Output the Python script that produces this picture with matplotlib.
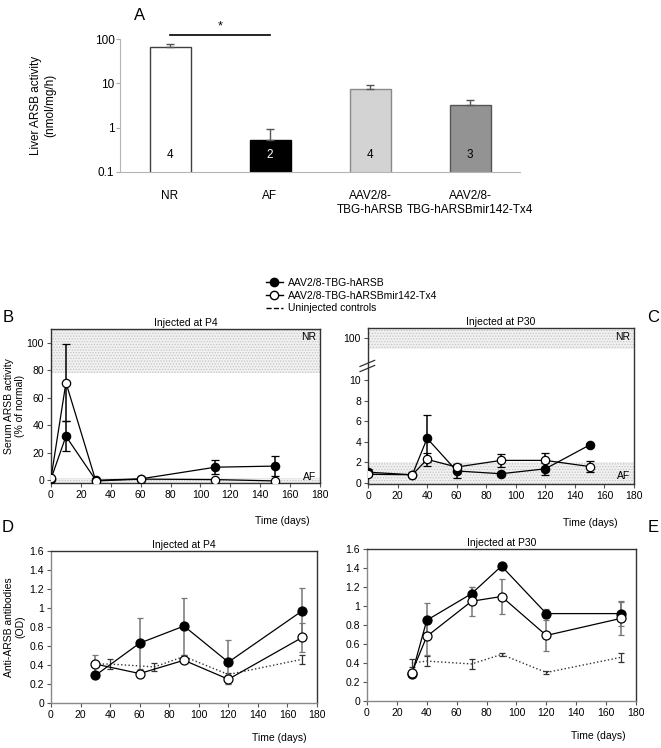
import matplotlib
matplotlib.use('Agg')
import matplotlib.pyplot as plt
from matplotlib.lines import Line2D
from matplotlib.ticker import FuncFormatter, NullLocator

plt.rcParams['font.family'] = ['Liberation Sans', 'DejaVu Sans']
plt.rcParams['font.size'] = 7.5
plt.rcParams['hatch.linewidth'] = 0.6

# A: liver ARSB activity
groups = ['NR', 'AF', 'AAV2/8-\nTBG-hARSB', 'AAV2/8-\nTBG-hARSBmir142-Tx4']
liver_mean = [66, 0.54, 7.5, 3.2]
liver_err = [12, 0.37, 1.9, 1.1]
liver_n = ['4', '2', '4', '3']
bar_colors = ['white', 'black', '#d3d3d3', '#939393']
bar_edges = ['#404040', 'black', '#8a8a8a', '#555555']
n_colors = ['black', 'white', 'black', 'black']

# B: serum ARSB, injected at P4 (% of normal)
b_days = [0, 10, 30, 60, 110, 150]
b_arsb = [1.0, 32, 0.0, 1.0, 9.5, 10.3]
b_arsb_err = [0, 11, 0, 0, 5, 7]
b_mir = [1.5, 71, -0.5, 0.8, 0.5, -0.5]
b_mir_err = [0, 28, 0, 0, 0, 0]

# C: serum ARSB, injected at P30 (% of normal)
c_days = [0, 30, 40, 60, 90, 120, 150]
c_arsb = [1.05, 0.8, 4.35, 1.17, 0.9, 1.38, 3.7]
c_arsb_err = [0.3, 0, 2.3, 0.65, 0, 0.6, 0]
c_mir = [0.85, 0.8, 2.3, 1.55, 2.2, 2.2, 1.6]
c_mir_err = [0.2, 0, 0.65, 0.3, 0.65, 0.7, 0.5]
c_ticks = [0, 2, 4, 6, 8, 10]

# D: anti-ARSB antibodies, injected at P4 (OD)
d_days = [30, 60, 90, 120, 170]
d_arsb = [0.29, 0.63, 0.81, 0.43, 0.97]
d_arsb_err = [0, 0.27, 0.30, 0.23, 0.24]
d_mir = [0.41, 0.31, 0.45, 0.25, 0.69]
d_mir_err = [0.10, 0.04, 0.03, 0.05, 0.15]
d_ctrl_days = [30, 40, 70, 90, 120, 170]
d_ctrl = [0.41, 0.41, 0.38, 0.49, 0.30, 0.46]
d_ctrl_err = [0, 0.05, 0.045, 0.02, 0.02, 0.045]

# E: anti-ARSB antibodies, injected at P30 (OD)
e_days = [30, 40, 70, 90, 120, 170]
e_arsb = [0.28, 0.85, 1.13, 1.42, 0.92, 0.92]
e_arsb_err = [0, 0.18, 0.07, 0, 0.05, 0.13]
e_mir = [0.30, 0.68, 1.05, 1.10, 0.69, 0.87]
e_mir_err = [0, 0.20, 0.15, 0.18, 0.16, 0.17]
e_ctrl = [0.40, 0.42, 0.39, 0.49, 0.30, 0.46]
e_ctrl_err = [0.045, 0.055, 0.05, 0.02, 0.02, 0.045]

W, H = 661, 748
fig = plt.figure(figsize=(W / 100, H / 100), dpi=100)


def px_axes(left, top, right, bottom):
    return fig.add_axes([left / W, 1 - bottom / H, (right - left) / W, (bottom - top) / H])


def shade(ax, lo, hi):
    ax.axhspan(lo, hi, facecolor='#f1f1f1', hatch='......', edgecolor='#c4c4c4', lw=0, zorder=0)


def series(ax, x, y, err, filled, ms=6, ecolor='black', cap=3):
    ax.errorbar(x, y, yerr=err, fmt='-o', color='black', lw=0.9, ms=ms,
                mfc='black' if filled else 'white', mec='black', mew=0.9,
                ecolor=ecolor, elinewidth=1.1, capsize=cap, capthick=1.1, zorder=3)


def box(ax):
    for s in ax.spines.values():
        s.set_color('#333333')
        s.set_linewidth(1.0)
    ax.tick_params(length=3, width=0.8, color='#555555', pad=2, labelsize=7.5)


# ---- A ----
axA = px_axes(120, 39, 520, 172)
xs = range(len(groups))
axA.bar(xs, liver_mean, width=0.41, color=bar_colors, edgecolor=bar_edges, lw=1.0, zorder=2)
axA.errorbar(xs, liver_mean, yerr=[[0] * 4, liver_err], fmt='none', ecolor='#555555',
             elinewidth=1.0, capsize=3, zorder=3)
axA.set_yscale('log')
axA.set_ylim(0.1, 100)
axA.set_xlim(-0.5, 3.5)
axA.set_yticks([0.1, 1, 10, 100])
axA.set_yticklabels(['0.1', '1', '10', '100'])
axA.yaxis.set_minor_locator(NullLocator())
axA.set_xticks(list(xs))
axA.set_xticklabels(groups, fontsize=8.5)
axA.tick_params(axis='x', length=0, pad=13)
axA.tick_params(axis='y', length=3, color='#aaaaaa', labelsize=8.5, pad=1)
for s in ['top', 'right']:
    axA.spines[s].set_visible(False)
for s in ['left', 'bottom']:
    axA.spines[s].set_color('#b5b5b5')
for i, n in enumerate(liver_n):
    axA.text(i, 0.24, n, ha='center', va='center', color=n_colors[i], fontsize=8.5)
axA.plot([0, 1], [123, 123], color='black', lw=1.2, clip_on=False)
axA.text(0.5, 190, '*', ha='center', va='center', fontsize=9)
axA.set_ylabel('Liver ARSB activity\n(nmol/mg/h)', fontsize=8.5)
axA.yaxis.set_label_coords(-0.16, 0.5)

# ---- B ----
axB = px_axes(51, 329, 320, 483)
shade(axB, 78, 112)
shade(axB, -3, 2)
series(axB, b_days, b_arsb, b_arsb_err, True)
series(axB, b_days, b_mir, b_mir_err, False)
axB.set_xlim(0, 180)
axB.set_ylim(-2, 110)
axB.set_xticks(range(0, 181, 20))
axB.set_yticks(range(0, 101, 20))
box(axB)
axB.set_title('Injected at P4', fontsize=7.5, pad=2)
axB.text(0.985, 0.95, 'NR', transform=axB.transAxes, ha='right', va='center')
axB.text(0.985, 0.04, 'AF', transform=axB.transAxes, ha='right', va='center')
axB.set_ylabel('Serum ARSB activity\n(% of normal)')
axB.yaxis.set_label_coords(-0.095, 0.5)
axB.text(0.96, -0.25, 'Time (days)', transform=axB.transAxes, ha='right', va='center')

# ---- C ----
axC = px_axes(368, 328, 634, 484)
shade(axC, 13.1, 16)
shade(axC, -1, 2)
series(axC, c_days, c_arsb, c_arsb_err, True)
series(axC, c_days, c_mir, c_mir_err, False)
axC.set_xlim(0, 180)
axC.set_ylim(-0.1, 15.1)
axC.set_xticks(range(0, 181, 20))
axC.set_yticks(c_ticks + [14.1])
axC.set_yticklabels([str(t) for t in c_ticks] + ['100'])
box(axC)
axC.set_title('Injected at P30', fontsize=7.5, pad=2)
axC.text(0.985, 0.94, 'NR', transform=axC.transAxes, ha='right', va='center')
axC.text(0.985, 0.05, 'AF', transform=axC.transAxes, ha='right', va='center')
tr = axC.get_yaxis_transform()
for dy in (-0.25, 0.25):
    axC.plot([-0.03, 0.025], [11.1 + dy, 11.7 + dy], transform=tr, color='#333333',
             lw=0.9, clip_on=False)
axC.text(0.94, -0.25, 'Time (days)', transform=axC.transAxes, ha='right', va='center')

# ---- D and E ----
def antibody(ax, days, arsb, arsb_err, mir, mir_err, cdays, ctrl, ctrl_err, title):
    ax.errorbar(cdays, ctrl, yerr=ctrl_err, fmt='none', ecolor='#333333', elinewidth=0.9,
                capsize=2, capthick=0.9, zorder=2)
    ax.plot(cdays, ctrl, ls=':', color='#333333', lw=1.0, zorder=2)
    series(ax, days, arsb, arsb_err, True, ms=6.5, ecolor='#777777', cap=2.5)
    series(ax, days, mir, mir_err, False, ms=6.5, ecolor='#777777', cap=2.5)
    ax.set_xlim(0, 180)
    ax.set_ylim(0, 1.6)
    ax.set_xticks(range(0, 181, 20))
    ax.set_yticks([i * 0.2 for i in range(9)])
    ax.yaxis.set_major_formatter(FuncFormatter(lambda v, p: '%g' % round(v, 1)))
    box(ax)
    for s in ['left', 'bottom']:
        ax.spines[s].set_color('#888888')
    ax.set_title(title, fontsize=7.5, pad=2)
    ax.text(0.96, -0.23, 'Time (days)', transform=ax.transAxes, ha='right', va='center')


axD = px_axes(51, 551, 317, 703)
antibody(axD, d_days, d_arsb, d_arsb_err, d_mir, d_mir_err,
         d_ctrl_days, d_ctrl, d_ctrl_err, 'Injected at P4')
axD.set_ylabel('Anti-ARSB antibodies\n(OD)')
axD.yaxis.set_label_coords(-0.095, 0.5)

axE = px_axes(367, 549, 636, 701)
antibody(axE, e_days, e_arsb, e_arsb_err, e_mir, e_mir_err,
         e_days, e_ctrl, e_ctrl_err, 'Injected at P30')

# legend
handles = [
    Line2D([], [], color='black', marker='o', mfc='black', mec='black', ms=6, lw=1),
    Line2D([], [], color='black', marker='o', mfc='white', mec='black', ms=6, lw=1),
    Line2D([], [], color='black', ls='--', lw=1),
]
labels = ['AAV2/8-TBG-hARSB', 'AAV2/8-TBG-hARSBmir142-Tx4', 'Uninjected controls']
fig.legend(handles, labels, loc='upper left', bbox_to_anchor=(266 / W, 1 - 278 / H),
           frameon=False, fontsize=7.5, handlelength=1.6, handletextpad=0.5,
           labelspacing=0.25, borderpad=0, borderaxespad=0)

# panel letters
for letter, x, y in [('A', 140, 15), ('B', 8, 317), ('C', 653, 317), ('D', 8, 527), ('E', 653, 527)]:
    fig.text(x / W, 1 - y / H, letter, fontsize=12, ha='center', va='center')

fig.savefig('out.png', dpi=100)
